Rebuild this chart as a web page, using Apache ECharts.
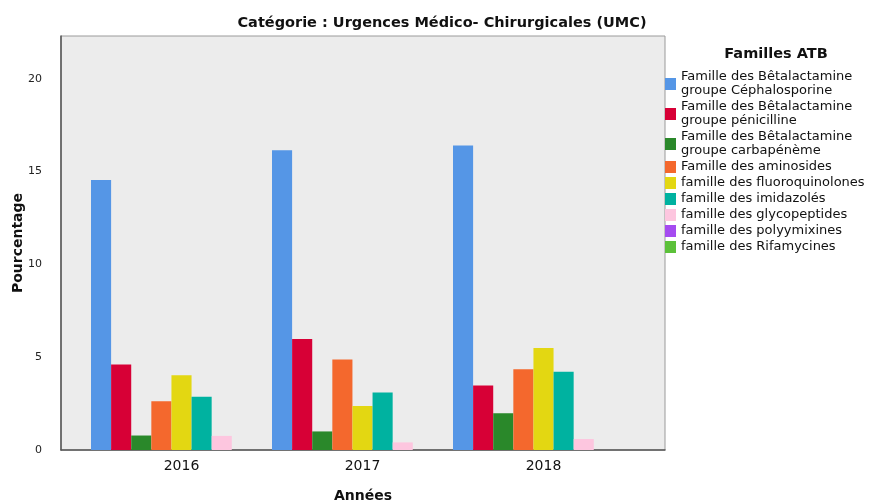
<!DOCTYPE html>
<html><head><meta charset="utf-8">
<script src="https://cdn.jsdelivr.net/npm/echarts@6/dist/echarts.min.js"></script>
<style>html,body{margin:0;padding:0;background:#fff}#c{width:870px;height:504px}</style>
</head><body><div id="c"></div>
<script>
const years = ['2016', '2017', '2018'];
const familyNames = [
  'Famille des Bêtalactamine\ngroupe Céphalosporine',
  'Famille des Bêtalactamine\ngroupe pénicilline',
  'Famille des Bêtalactamine\ngroupe carbapénème',
  'Famille des aminosides',
  'famille des fluoroquinolones',
  'famille des imidazolés',
  'famille des glycopeptides',
  'famille des polyymixines',
  'famille des Rifamycines'
];
const cephalosporine = [14.55, 16.15, 16.4];
const penicilline = [4.6, 5.98, 3.48];
const carbapeneme = [0.78, 1.0, 1.98];
const aminosides = [2.62, 4.87, 4.35];
const fluoroquinolones = [4.03, 2.37, 5.5];
const imidazoles = [2.87, 3.1, 4.22];
const glycopeptides = [0.76, 0.41, 0.59];
const polymyxines = [0, 0, 0];
const rifamycines = [0, 0, 0];
const yTicks = [0, 5, 10, 15, 20];
const seriesValues = [cephalosporine, penicilline, carbapeneme, aminosides, fluoroquinolones, imidazoles, glycopeptides, polymyxines, rifamycines];
const colors = ['#5596e6', '#d70036', '#2a882a', '#f4682d', '#e3d712', '#00b2a0', '#fdc6df', '#a54bf0', '#5cc13a'];

const FONT = 'DejaVu Sans';
const YMAX = 22.3;
const chart = echarts.init(document.getElementById('c'), null, {renderer: 'canvas'});
chart.setOption({
  animation: false,
  textStyle: {fontFamily: FONT},
  title: [
    {text: 'Catégorie : Urgences Médico- Chirurgicales (UMC)', left: 437, top: 11, textAlign: 'center',
     textStyle: {fontFamily: FONT, fontSize: 14.5, fontWeight: 'bold', color: '#111'}},
    {text: 'Familles ATB', left: 771, top: 42, textAlign: 'center',
     textStyle: {fontFamily: FONT, fontSize: 14.5, fontWeight: 'bold', color: '#111'}}
  ],
  legend: {
    orient: 'vertical', left: 660, top: 65,
    itemWidth: 11, itemHeight: 12, itemGap: 2, icon: 'rect',
    selectedMode: false,
    textStyle: {fontFamily: FONT, fontSize: 13, color: '#111', lineHeight: 14},
    data: familyNames
  },
  grid: [
    {left: 61, top: 36, width: 604, height: 414, show: true, backgroundColor: '#ececec', borderColor: '#9a9a9a', borderWidth: 1, outerBoundsMode: 'none', containLabel: false},
    {left: 91, top: 36, width: 543, height: 414, outerBoundsMode: 'none', containLabel: false}
  ],
  xAxis: [
    {gridIndex: 0, type: 'category', data: years, show: true,
     axisLine: {lineStyle: {color: '#555', width: 1.5}}, axisTick: {show: false}, axisLabel: {show: false},
     name: 'Années', nameLocation: 'middle', nameGap: 39, nameMoveOverlap: false,
     nameTextStyle: {fontFamily: FONT, fontSize: 14, fontWeight: 'bold', color: '#111'}},
    {gridIndex: 1, type: 'category', data: years,
     axisLine: {show: false}, axisTick: {show: false},
     axisLabel: {fontFamily: FONT, fontSize: 14, color: '#111', margin: 9}}
  ],
  yAxis: [
    {gridIndex: 0, type: 'value', min: 0, max: YMAX, interval: 5,
     axisLine: {show: true, lineStyle: {color: '#555', width: 1.5}}, axisTick: {show: false},
     splitLine: {show: false},
     axisLabel: {fontFamily: FONT, fontSize: 11, color: '#222', margin: 19,
       formatter: v => yTicks.includes(v) ? String(v) : ''},
     name: 'Pourcentage', nameLocation: 'middle', nameGap: 36, nameRotate: 90, nameMoveOverlap: false,
     nameTextStyle: {fontFamily: FONT, fontSize: 14, fontWeight: 'bold', color: '#111'}},
    {gridIndex: 1, type: 'value', min: 0, max: YMAX, show: false, splitLine: {show: false}}
  ],
  series: familyNames.map((n, i) => ({
    name: n, type: 'bar', xAxisIndex: 1, yAxisIndex: 1,
    data: seriesValues[i], barGap: 0, barCategoryGap: 0,
    itemStyle: {color: colors[i]}
  }))
});
</script></body></html>
